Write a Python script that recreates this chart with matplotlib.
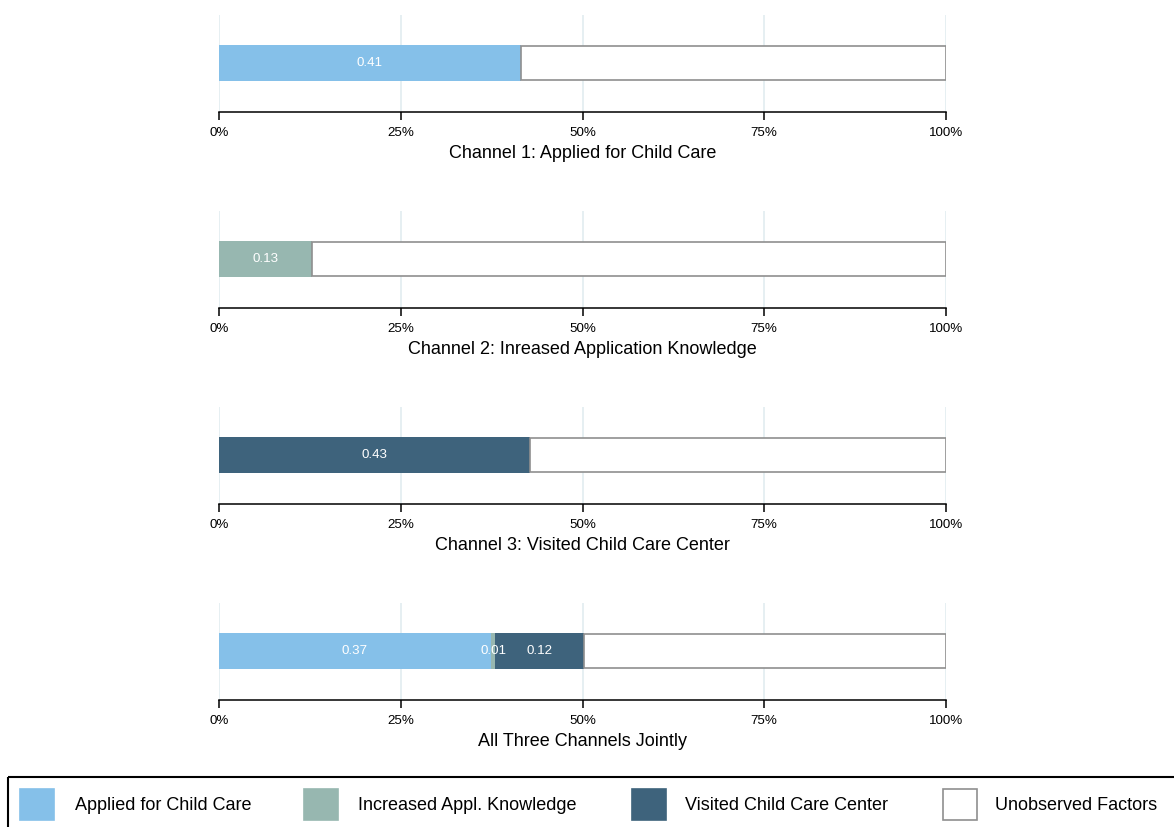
import numpy as np
import matplotlib
matplotlib.use("Agg")
import matplotlib.pyplot as plt
from matplotlib.patches import Rectangle

plt.rcParams['font.family'] = ['Liberation Sans', 'DejaVu Sans']

# panel titles and shares explained by each channel
titles = ["Channel 1: Applied for Child Care",
          "Channel 2: Inreased Application Knowledge",
          "Channel 3: Visited Child Care Center",
          "All Three Channels Jointly"]
applied = [0.415, 0.0, 0.0, 0.374]
knowledge = [0.0, 0.128, 0.0, 0.006]
visited = [0.0, 0.0, 0.428, 0.122]

legend_labels = ["Applied for Child Care", "Increased Appl. Knowledge",
                 "Visited Child Care Center", "Unobserved Factors"]
colors = ["#85c0e9", "#97b7b0", "#3e637c", "white"]

xticks = [0, 0.25, 0.5, 0.75, 1.0]
xticklabels = ["0%", "25%", "50%", "75%", "100%"]

W, H = 1174, 827
fig = plt.figure(figsize=(W / 100, H / 100), dpi=100)

left, right = 219, 946
tops = [15, 211, 407, 603]
ph = 97

for i in range(4):
    top = tops[i]
    ax = fig.add_axes([left / W, 1 - (top + ph) / H, (right - left) / W, ph / H])
    ax.set_xlim(0, 1)
    ax.set_ylim(0, 1)
    for t in xticks:
        ax.axvline(t, color="#e4eef1", lw=1.3, zorder=0)
    yc, hh = 0.505, 0.37
    segs = [applied[i], knowledge[i], visited[i]]
    start = 0
    for v, c in zip(segs, colors[:3]):
        if v > 0:
            ax.barh(yc, v, left=start, height=hh, color=c, lw=0, zorder=2)
            ax.text(start + v / 2, yc, "%.2f" % v, color="white", fontsize=9.6,
                    ha="center", va="center", zorder=3)
            start += v
    ax.barh(yc, 1 - start, left=start, height=hh * 0.95, color="white",
            edgecolor="#8f8f8f", lw=1.2, zorder=2)
    for s in ["top", "left", "right"]:
        ax.spines[s].set_visible(False)
    ax.spines["bottom"].set_linewidth(1.1)
    ax.set_yticks([])
    ax.set_xticks(xticks)
    ax.set_xticklabels(xticklabels, fontsize=9.6)
    ax.tick_params(axis="x", length=6, width=1.1, pad=5)
    ax.set_xlabel(titles[i], fontsize=13, labelpad=4)

# legend drawn in pixel coordinates
lax = fig.add_axes([0, 0, 1, 1])
lax.set_xlim(0, W)
lax.set_ylim(H, 0)
lax.axis("off")
lax.add_patch(Rectangle((8, 777), W + 20, 80, fill=False, ec="black", lw=1.5))
px = [20, 304, 632, 943]
tx = [75, 358, 685, 995]
for x, t, lab, c in zip(px, tx, legend_labels, colors):
    ec = "#8f8f8f" if c == "white" else c
    lax.add_patch(Rectangle((x, 789), 34, 31, fc=c, ec=ec, lw=1.2))
    lax.text(t, 805, lab, fontsize=13, va="center", ha="left")

fig.savefig("out.png", dpi=100)
